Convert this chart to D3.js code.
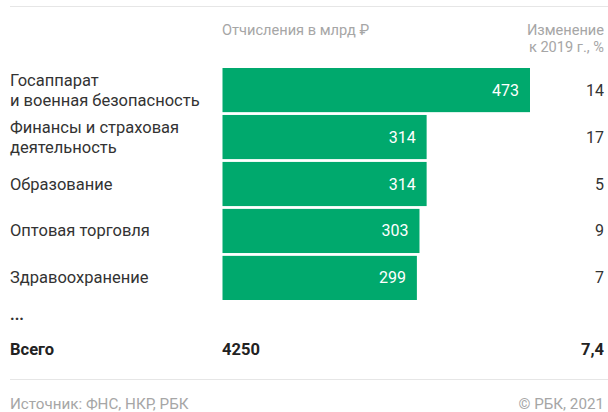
<!DOCTYPE html>
<html><head><meta charset="utf-8">
<script src="https://cdn.jsdelivr.net/npm/d3@7"></script>
<style>body{margin:0;background:#fff}text{font-family:Roboto,"Noto Sans",sans-serif}</style>
</head><body><svg id="c" width="608" height="412"></svg>
<script>
const categories = [["Госаппарат","и военная безопасность"],["Финансы и страховая","деятельность"],["Образование"],["Оптовая торговля"],["Здравоохранение"]];
const values = [473, 314, 314, 303, 299];
const changes = ["14","17","5","9","7"];
const total = "4250", totalChange = "7,4";

const svg = d3.select("#c");
const x = d3.scaleLinear().domain([0, 473]).range([222.5, 530]);
const y = d3.scaleBand().domain(d3.range(values.length)).range([68, 300]).paddingInner(0.06).paddingOuter(0);
const green = "#00a96d";

svg.append("line").attr("x1",10).attr("x2",608).attr("y1",6.5).attr("y2",6.5).attr("stroke","#e6e6e6");
svg.append("line").attr("x1",10).attr("x2",608).attr("y1",379.5).attr("y2",379.5).attr("stroke","#e6e6e6");

svg.append("text").attr("x",222).attr("y",35).attr("fill","#a6a6a6").attr("font-size",14.6).text("Отчисления в млрд ₽");
svg.append("text").attr("x",604).attr("y",35).attr("text-anchor","end").attr("fill","#a6a6a6").attr("font-size",14.6).text("Изменение");
svg.append("text").attr("x",604).attr("y",52).attr("text-anchor","end").attr("fill","#a6a6a6").attr("font-size",14.6).text("к 2019 г., %");

const g = svg.selectAll("g.row").data(values).join("g").attr("class","row");
g.append("rect").attr("x",x(0)).attr("y",(d,i)=>y(i)).attr("width",d=>x(d)-x(0)).attr("height",y.bandwidth()).attr("fill",green);
g.append("text").attr("x",d=>x(d)-11).attr("y",(d,i)=>y(i)+y.bandwidth()/2+5.5).attr("text-anchor","end").attr("fill","#fff").attr("font-size",16).text(d=>d);
g.append("text").attr("x",604).attr("y",(d,i)=>y(i)+y.bandwidth()/2+5.5).attr("text-anchor","end").attr("fill","#333").attr("font-size",16).text((d,i)=>changes[i]);
g.each(function(d,i){
  const lines = categories[i];
  const cy = y(i)+y.bandwidth()/2;
  const t = d3.select(this).append("text").attr("fill","#333").attr("font-size",16.5);
  lines.forEach((l,j)=>{
    t.append("tspan").attr("x",10).attr("y", cy + 5.5 + (j - (lines.length-1)/2)*20).text(l);
  });
});

svg.append("text").attr("x",10).attr("y",320).attr("fill","#333").attr("font-size",16).attr("font-weight","bold").text("...");
svg.append("text").attr("x",10).attr("y",355).attr("fill","#222").attr("font-size",16.5).attr("font-weight","bold").text("Всего");
svg.append("text").attr("x",222).attr("y",355).attr("fill","#222").attr("font-size",16.5).attr("font-weight","bold").text(total);
svg.append("text").attr("x",604).attr("y",355).attr("text-anchor","end").attr("fill","#222").attr("font-size",16.5).attr("font-weight","bold").text(totalChange);

svg.append("text").attr("x",10).attr("y",409).attr("fill","#a6a6a6").attr("font-size",15.2).text("Источник: ФНС, НКР, РБК");
svg.append("text").attr("x",604).attr("y",409).attr("text-anchor","end").attr("fill","#a6a6a6").attr("font-size",15.2).text("© РБК, 2021");
</script></body></html>
